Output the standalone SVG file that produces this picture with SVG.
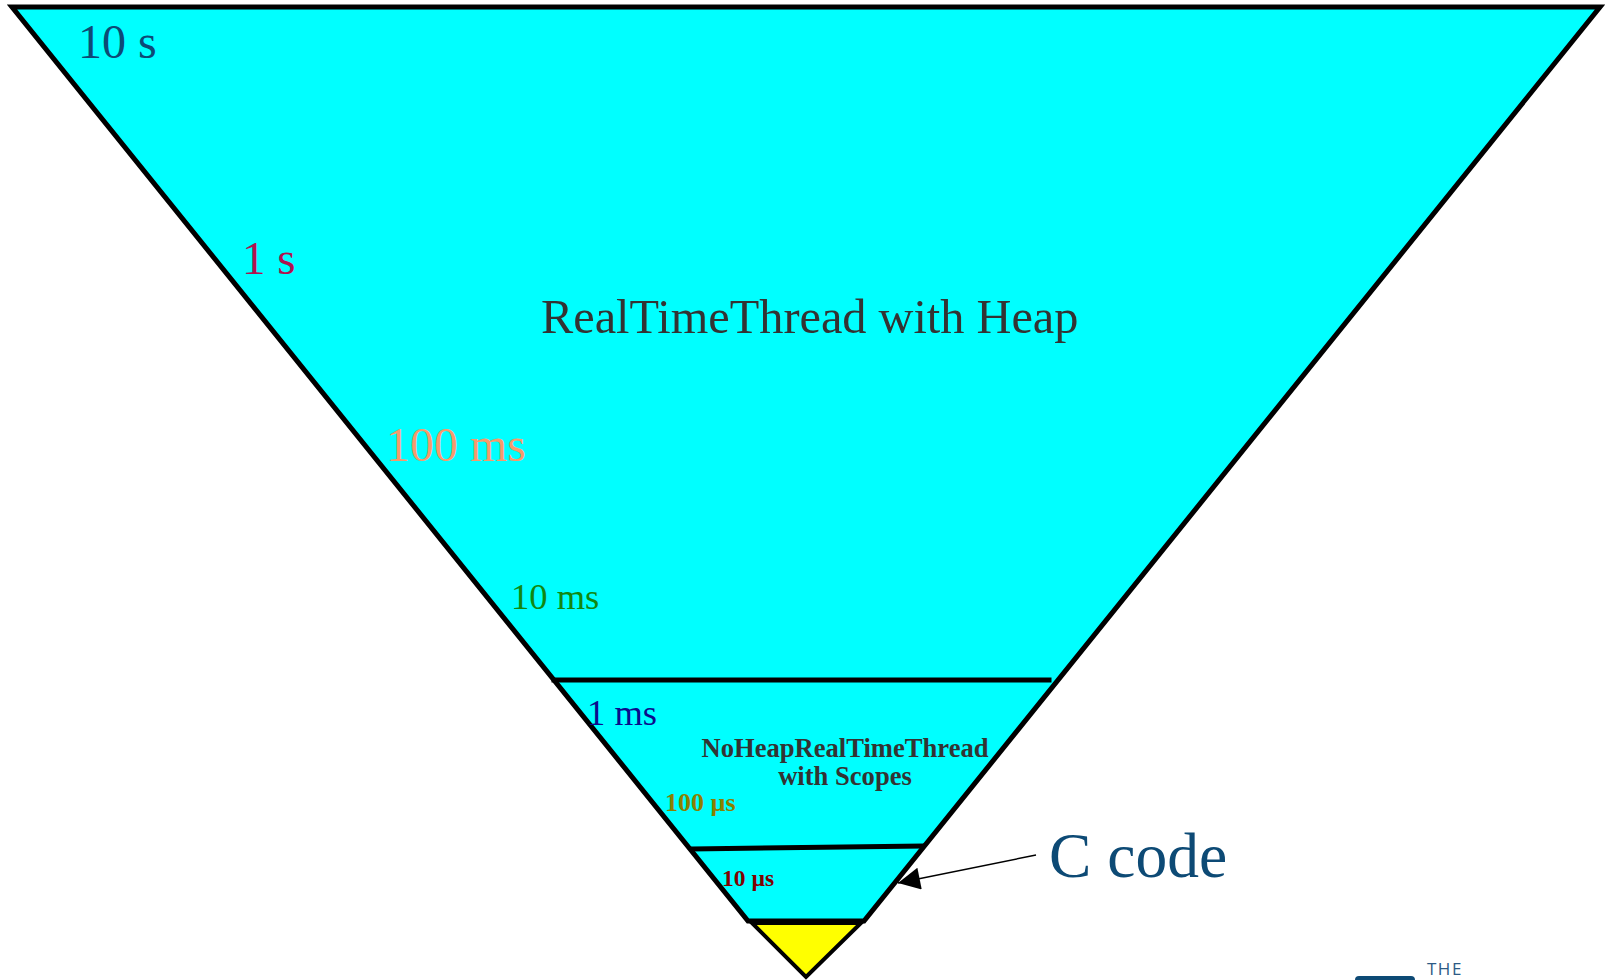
<svg xmlns="http://www.w3.org/2000/svg" width="1609" height="980" viewBox="0 0 1609 980">
  <defs>
    <style>
      .serif { font-family: "Liberation Serif", "Times New Roman", serif; }
      .bold { font-weight: bold; }
      .edge { fill: none; stroke: #000; stroke-width: 5; stroke-linecap: square; }
    </style>
    <marker id="arrow" viewBox="0 0 10 10" refX="10" refY="5" markerWidth="27" markerHeight="22" markerUnits="userSpaceOnUse" orient="auto">
      <path d="M0,0 L10,5 L0,10 z" fill="#000"/>
    </marker>
  </defs>
  <rect width="1609" height="980" fill="#ffffff"/>

  <g id="heap-region">
    <polygon points="12,7 1600,7 864,921 748,921" fill="#00ffff" stroke="#000" stroke-width="5" stroke-linejoin="miter"/>
    <text class="serif" x="541" y="333" font-size="48.3" fill="#333333">RealTimeThread with Heap</text>
  </g>

  <g id="divider-lines">
    <line x1="554" y1="680" x2="1049" y2="680" class="edge"/>
    <line x1="692" y1="849" x2="922" y2="846" class="edge"/>
  </g>

  <g id="noheap-region">
    <text class="serif bold" x="845" y="757" font-size="26.6" fill="#333333" text-anchor="middle">NoHeapRealTimeThread</text>
    <text class="serif bold" x="845" y="785" font-size="26.6" fill="#333333" text-anchor="middle">with Scopes</text>
  </g>

  <g id="c-region">
    <polygon points="752,923 861,923 806,977" fill="#ffff00" stroke="#000" stroke-width="4" stroke-linejoin="miter"/>
  </g>

  <g id="time-labels">
    <text class="serif" x="78" y="58" font-size="48" fill="#0d4a75">10 s</text>
    <text class="serif" x="242" y="274" font-size="47" fill="#b0124f">1 s</text>
    <text class="serif" x="386" y="461" font-size="48" fill="#f59b6c">100 ms</text>
    <text class="serif" x="511" y="609" font-size="36.5" fill="#118811">10 ms</text>
    <text class="serif" x="587" y="725" font-size="36.5" fill="#0c0c8c">1 ms</text>
    <text class="serif bold" x="665" y="811" font-size="26" fill="#8a8000">100 µs</text>
    <text class="serif bold" x="722" y="886" font-size="23.5" fill="#800000">10 µs</text>
  </g>

  <g id="connectors">
    <line x1="1036" y1="855" x2="898" y2="883" stroke="#000" stroke-width="1.5" marker-end="url(#arrow)"/>
  </g>

  <g id="c-code-label">
    <text class="serif" x="1049" y="877" font-size="63.5" fill="#0d4a75">C code</text>
  </g>

  <g id="logo">
    <rect x="1355" y="976" width="60" height="12" rx="4" fill="#0d4a75"/>
    <text x="1427" y="975" font-family="'Open Sans', 'Liberation Sans', sans-serif" font-size="17" letter-spacing="1.5" fill="#2d5a85">THE</text>
  </g>
</svg>
